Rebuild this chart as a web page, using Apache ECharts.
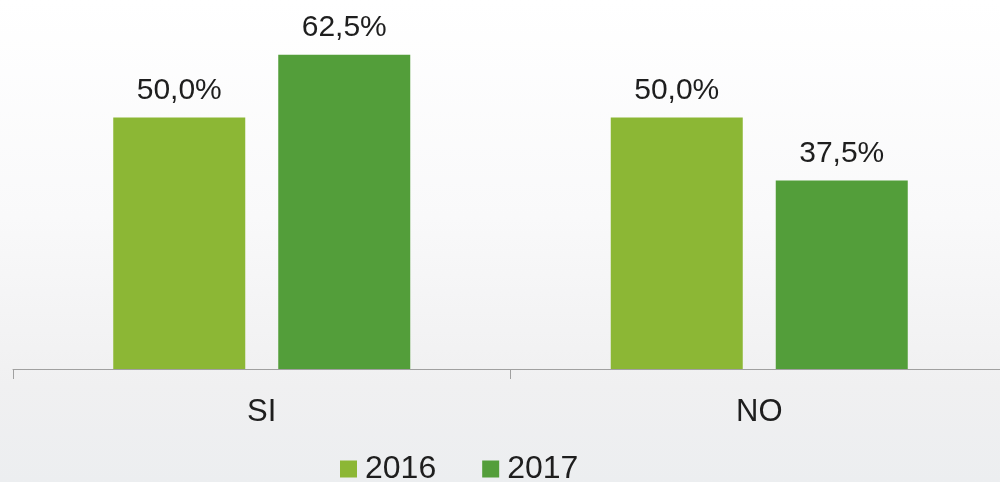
<!DOCTYPE html>
<html>
<head>
<meta charset="utf-8">
<script src="https://cdn.jsdelivr.net/npm/echarts@6/dist/echarts.min.js"></script>
<style>
  html, body { margin: 0; padding: 0; overflow: hidden; }
  /* the axis runs a little past the right edge of the picture */
  #chart { width: 1008px; height: 482px; }
</style>
</head>
<body>
<div id="chart"></div>
<script>
// data
var categories = ['SI', 'NO'];
var seriesNames = ['2016', '2017'];
var values2016 = [50.0, 50.0];
var values2017 = [62.5, 37.5];

var FONT = '"Liberation Sans", Arial, sans-serif';

function pct(p) {
  return p.value.toFixed(1).replace('.', ',') + '%';
}

var labelStyle = {
  show: true,
  position: 'top',
  distance: 12,
  formatter: pct,
  color: '#1e1e1e',
  fontSize: 30,
  fontFamily: FONT
};

var myChart = echarts.init(document.getElementById('chart'));
myChart.setOption({
  backgroundColor: {
    type: 'linear', x: 0, y: 0, x2: 0, y2: 1,
    colorStops: [
      { offset: 0, color: '#ffffff' },
      { offset: 0.45, color: '#f9f9fa' },
      { offset: 0.8, color: '#f0f0f1' },
      { offset: 1, color: '#eceef0' }
    ]
  },
  color: ['#8cb735', '#539e3a'],
  animation: false,
  grid: { left: 13, top: 17, right: 0, bottom: 113, containLabel: false },
  legend: {
    data: seriesNames,
    left: 340,
    top: 453,
    padding: 0,
    itemWidth: 17,
    itemHeight: 17,
    itemGap: 46,
    icon: 'rect',
    textStyle: { fontSize: 32, lineHeight: 32, color: '#1e1e1e', fontFamily: FONT, padding: [0, 0, 0, 3] }
  },
  xAxis: {
    type: 'category',
    data: categories,
    axisLine: { lineStyle: { color: '#a0a0a0', width: 1 } },
    axisTick: { show: true, length: 10, lineStyle: { color: '#a0a0a0' } },
    axisLabel: { color: '#1e1e1e', fontSize: 31, fontFamily: FONT, margin: 28 }
  },
  yAxis: {
    type: 'value',
    min: 0,
    max: 70,
    show: false,
    splitLine: { show: false }
  },
  series: [
    {
      name: seriesNames[0],
      type: 'bar',
      data: values2016,
      barWidth: 132,
      barGap: '25%',
      label: labelStyle
    },
    {
      name: seriesNames[1],
      type: 'bar',
      data: values2017,
      barWidth: 132,
      label: labelStyle
    }
  ]
});

window.addEventListener('resize', function () {
  myChart.resize();
});
</script>
</body>
</html>
